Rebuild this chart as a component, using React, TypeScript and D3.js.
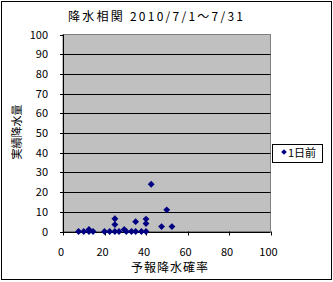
import React from "react";
import * as d3 from "d3";

const title = "降水相関 2010/7/1～7/31";
const xTitle = "予報降水確率";
const yTitle = "実績降水量";
const seriesName = "1日前";
const xTicks = [0, 20, 40, 60, 80, 100];
const yTicks = [0, 10, 20, 30, 40, 50, 60, 70, 80, 90, 100];
const forecastProb = [7.5, 10, 12.5, 12.5, 14.5, 20, 22.5, 25, 25, 25, 27, 29.5, 30.5, 33, 35, 35, 37.8, 40, 40, 40, 42.5, 47.5, 50, 52.5];
const actualRain = [0, 0, 0, 1, 0, 0, 0, 0, 3.5, 6.5, 0, 1, 0, 0, 0, 5, 0, 0, 4, 6.3, 24, 2.5, 11, 2.5];

const W = 333, H = 282;
const font = "'Noto Sans CJK JP', 'Noto Sans', sans-serif";

export default function App() {
  const x = d3.scaleLinear().domain([0, 100]).range([63, 270.5]);
  const y = d3.scaleLinear().domain([0, 100]).range([231.5, 34.5]);
  const diamond = d3.symbol().type(d3.symbolDiamond2).size(30)();
  const legendDiamond = d3.symbol().type(d3.symbolDiamond2).size(20)();
  return (
    <svg width={W} height={H} style={{ position: "absolute", left: 0, top: 0, display: "block" }}>
      <rect x={0} y={0} width={W} height={H} fill="#fff" />
      <rect x={1.5} y={1.5} width={330} height={278} fill="none" stroke="#000" strokeWidth={1} />
      <text x={68} y={20.5} textLength={175} lengthAdjust="spacing" fontFamily={font} fontSize={12} fill="#000">{title}</text>
      <rect x={x(0)} y={y(100)} width={x(100) - x(0)} height={y(0) - y(100)} fill="#c0c0c0" stroke="#808080" strokeWidth={1} />
      {yTicks.filter(t => t > 0 && t < 100).map(t => (
        <line key={"g" + t} x1={x(0)} x2={x(100)} y1={Math.round(y(t)) + 0.5} y2={Math.round(y(t)) + 0.5} stroke="#000" strokeWidth={1} />
      ))}
      <line x1={x(0)} x2={x(100)} y1={Math.round(y(0)) + 0.5} y2={Math.round(y(0)) + 0.5} stroke="#000" />
      <line x1={Math.round(x(0)) + 0.5} x2={Math.round(x(0)) + 0.5} y1={y(100)} y2={y(0) + 1} stroke="#000" />
      {yTicks.map(t => (
        <g key={"y" + t}>
          <line x1={x(0) - 3} x2={x(0)} y1={Math.round(y(t)) + 0.5} y2={Math.round(y(t)) + 0.5} stroke="#000" />
          <text x={48} y={y(t) + 4} textAnchor="end" fontFamily={font} fontSize={11} fill="#000">{t}</text>
        </g>
      ))}
      {xTicks.map(t => (
        <g key={"x" + t}>
          <line x1={Math.round(x(t)) + 0.5} x2={Math.round(x(t)) + 0.5} y1={y(0)} y2={y(0) + 4} stroke="#000" />
          <text x={x(t) - 2} y={256} textAnchor="middle" fontFamily={font} fontSize={11} fill="#000">{t}</text>
        </g>
      ))}
      <text x={131} y={272} textLength={77} lengthAdjust="spacing" fontFamily={font} fontSize={12} fill="#000">{xTitle}</text>
      <text transform={`translate(21,132) rotate(-90)`} textAnchor="middle" fontFamily={font} fontSize={11} fill="#000">{yTitle}</text>
      {forecastProb.map((p, i) => (
        <path key={"p" + i} d={diamond} transform={`translate(${x(p)},${y(actualRain[i])})`} fill="#000080" />
      ))}
      <rect x={272.5} y={144.5} width={50} height={18} fill="#fff" stroke="#000" />
      <path d={legendDiamond} transform="translate(284,152)" fill="#000080" />
      <text x={288} y={157} fontFamily={font} fontSize={11} fill="#000">{seriesName}</text>
    </svg>
  );
}
